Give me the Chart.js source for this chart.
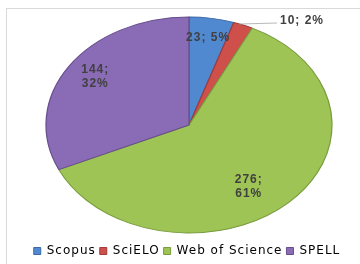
<!DOCTYPE html>
<html>
<head>
<meta charset="utf-8">
<script src="https://cdn.jsdelivr.net/npm/chart.js@4.4.0/dist/chart.umd.min.js"></script>
<style>
  html, body { margin: 0; padding: 0; background: #fff; }
  #wrap { position: relative; width: 360px; height: 264px; overflow: hidden; }
  #frame { position: absolute; left: 6px; top: 8px; width: 400px; height: 300px; border: 1px solid #d9d9d9; }
  canvas { position: absolute; left: 0; top: 0; }
</style>
</head>
<body>
<div id="wrap">
  <div id="frame"></div>
  <canvas id="chart" width="360" height="264"></canvas>
</div>
<script>
// =======================
// Data
// =======================
const categories = ['Scopus', 'SciELO', 'Web of Science', 'SPELL'];
const counts = [23, 10, 276, 144];

// =======================
// Styles
// =======================
const baseColors = ['#5189d0', '#cf4f4b', '#9dc454', '#8a6bb6'];
const lightColors = ['#6e9fe0', '#e2625d', '#accf63', '#9878c4'];
const darkColors = ['#3a6aa8', '#a03c39', '#7a9c40', '#674d8c'];
const textColor = '#404040';

// the pie is drawn as a circle and squashed into this ellipse (3D tilt look)
const ellipse = { cx: 189, cy: 125, rx: 143, ry: 108 };
// label anchor as fraction of the radius (x, y), null = outside label
const labelAnchors = [[0.84, 0.82], null, [0.6, 0.8], [0.78, 0.82]];

const total = counts.reduce((a, b) => a + b, 0);
const labelText = (i) => counts[i] + '; ' + Math.round(counts[i] / total * 100) + '%';

function pieInfo(chart) {
  const arc = chart.getDatasetMeta(0).data[0];
  return { x: arc.x, y: arc.y, r: arc.outerRadius };
}

function toEllipse(p, x, y) {
  return {
    x: ellipse.cx + (x - p.x) * ellipse.rx / p.r,
    y: ellipse.cy + (y - p.y) * ellipse.ry / p.r
  };
}

function sliceFill(context) {
  const chart = context.chart;
  const i = context.dataIndex;
  const arc = chart.getDatasetMeta(0).data[i];
  if (!arc || !arc.outerRadius) return baseColors[i];
  const g = chart.ctx.createRadialGradient(arc.x, arc.y, 0, arc.x, arc.y, arc.outerRadius);
  g.addColorStop(0, baseColors[i]);
  g.addColorStop(0.82, lightColors[i]);
  g.addColorStop(0.94, baseColors[i]);
  g.addColorStop(1, darkColors[i]);
  return g;
}

// wider text, like the original office font
const spacingPlugin = {
  id: 'spacing',
  beforeLayout(chart) { chart.ctx.letterSpacing = '1px'; },
  beforeDraw(chart) { chart.ctx.letterSpacing = '1px'; }
};

const tiltPlugin = {
  id: 'tilt',
  beforeDatasetsDraw(chart) {
    const p = pieInfo(chart);
    const ctx = chart.ctx;
    ctx.save();
    ctx.translate(ellipse.cx, ellipse.cy);
    ctx.scale(ellipse.rx / p.r, ellipse.ry / p.r);
    ctx.translate(-p.x, -p.y);
  },
  afterDatasetsDraw(chart) {
    const ctx = chart.ctx;
    ctx.restore();
    const p = pieInfo(chart);
    const arcs = chart.getDatasetMeta(0).data;

    ctx.save();
    ctx.letterSpacing = '1px';
    ctx.fillStyle = textColor;
    ctx.font = 'bold 12px "Liberation Sans", Arial, sans-serif';
    ctx.textBaseline = 'middle';
    arcs.forEach((arc, i) => {
      const mid = (arc.startAngle + arc.endAngle) / 2;
      const anchor = labelAnchors[i];
      if (anchor) {
        const pt = toEllipse(p, p.x + Math.cos(mid) * p.r * anchor[0], p.y + Math.sin(mid) * p.r * anchor[1]);
        ctx.textAlign = 'center';
        if (i === 0) {
          ctx.fillText(labelText(i), pt.x, pt.y);
        } else {
          const parts = labelText(i).split(' ');
          ctx.fillText(parts[0], pt.x, pt.y - 7);
          ctx.fillText(parts[1], pt.x, pt.y + 7);
        }
      } else {
        // outside label with leader line
        const edge = toEllipse(p, p.x + Math.cos(mid) * p.r, p.y + Math.sin(mid) * p.r);
        ctx.strokeStyle = '#a6a6a6';
        ctx.lineWidth = 0.8;
        ctx.beginPath();
        ctx.moveTo(edge.x - 4, edge.y - 1);
        ctx.lineTo(277, 23);
        ctx.stroke();
        ctx.textAlign = 'left';
        ctx.fillText(labelText(i), 280, 21);
      }
    });
    ctx.restore();
  }
};

new Chart(document.getElementById('chart'), {
  type: 'pie',
  data: {
    labels: categories,
    datasets: [{
      data: counts,
      backgroundColor: sliceFill,
      borderColor: darkColors,
      borderWidth: 1
    }]
  },
  options: {
    responsive: false,
    animation: false,
    layout: { padding: { top: 10, bottom: -3, left: 14, right: 0 } },
    plugins: {
      tooltip: { enabled: false },
      legend: {
        position: 'bottom',
        labels: {
          color: textColor,
          font: { family: '"DejaVu Sans", sans-serif', size: 12 },
          boxWidth: 7,
          boxHeight: 7,
          padding: 4,
          generateLabels(chart) {
            return categories.map((c, i) => ({
              text: c,
              fillStyle: baseColors[i],
              strokeStyle: darkColors[i],
              lineWidth: 1,
              index: i
            }));
          }
        }
      }
    }
  },
  plugins: [spacingPlugin, tiltPlugin]
});
</script>
</body>
</html>
